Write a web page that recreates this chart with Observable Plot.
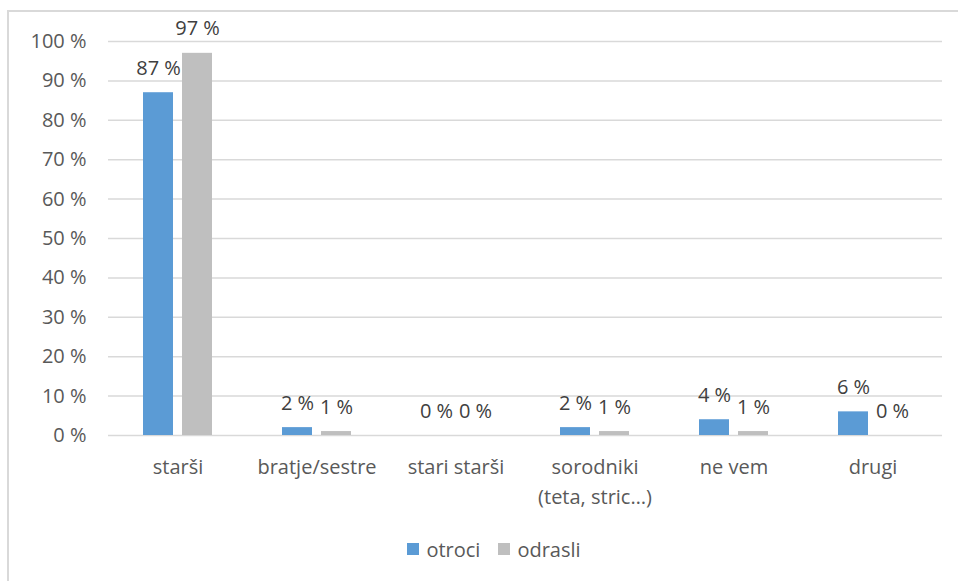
<!DOCTYPE html>
<html>
<head>
<meta charset="utf-8">
<script src="https://cdn.jsdelivr.net/npm/d3@7"></script>
<script src="https://cdn.jsdelivr.net/npm/@observablehq/plot@0.6"></script>
<style>
  html, body { margin: 0; padding: 0; background: #fff; }
  body { width: 958px; height: 581px; overflow: hidden; position: relative; font-family: "Open Sans", sans-serif; }
  #frame { position: absolute; left: 7px; top: 10px; width: 2000px; height: 2000px;
           border-left: 2px solid #D9D9D9; border-top: 2px solid #D9D9D9; pointer-events: none; }
  #chart svg { display: block; }
  #legend { height: 26px; display: flex; justify-content: center; align-items: center;
            font-size: 20px; color: #595959; padding-left: 30px; }
  .item { display: flex; align-items: center; margin: 0 9px; }
  .sw { width: 12px; height: 12px; margin-right: 7px; }
</style>
</head>
<body>
<div id="chart"></div>
<div id="legend"></div>
<div id="frame"></div>
<script>
const categories = ["starši", "bratje/sestre", "stari starši", "sorodniki\n(teta, stric…)", "ne vem", "drugi"];
const series = ["otroci", "odrasli"];
const otroci = [87, 2, 0, 2, 4, 6];
const odrasli = [97, 1, 0, 1, 1, 0];
const colors = ["#5B9BD5", "#BFBFBF"];
const yTicks = [0, 10, 20, 30, 40, 50, 60, 70, 80, 90, 100];

const data = [];
categories.forEach((c, i) => {
  data.push({cat: c, series: "otroci", value: otroci[i]});
  data.push({cat: c, series: "odrasli", value: odrasli[i]});
});

const plot = Plot.plot({
  width: 958,
  height: 536,
  marginLeft: 107,
  marginRight: 16,
  marginTop: 41,
  marginBottom: 101,
  style: {fontFamily: "'Open Sans', sans-serif", fontSize: "20px", color: "#595959", background: "transparent"},
  fx: {domain: categories, padding: 0, label: null},
  x: {domain: series, paddingInner: 0.225, paddingOuter: 0.8525, axis: null},
  y: {domain: [0, 100], label: null},
  color: {domain: series, range: colors},
  marks: [
    Plot.gridY(yTicks, {stroke: "#D9D9D9", strokeOpacity: 1, strokeWidth: 1.5}),
    Plot.axisY(yTicks, {tickSize: 0, tickPadding: 22, tickFormat: d => d + " %", fontSize: 20, fill: "#595959", label: null}),
    Plot.axisFx({anchor: "bottom", tickSize: 0, tickPadding: 17, fontSize: 20, fill: "#595959", lineHeight: 1.5, label: null}),
    Plot.barY(data, {fx: "cat", x: "series", y: "value", fill: "series"}),
    Plot.text(data, {fx: "cat", x: "series", y: "value", text: d => d.value + " %", dy: -18, lineAnchor: "bottom", fill: "#404040", fontSize: 20})
  ]
});
document.getElementById("chart").appendChild(plot);

const legend = document.getElementById("legend");
series.forEach((s, i) => {
  const it = document.createElement("div");
  it.className = "item";
  const sw = document.createElement("div");
  sw.className = "sw";
  sw.style.background = colors[i];
  const t = document.createElement("span");
  t.textContent = s;
  it.appendChild(sw); it.appendChild(t);
  legend.appendChild(it);
});
</script>
</body>
</html>
